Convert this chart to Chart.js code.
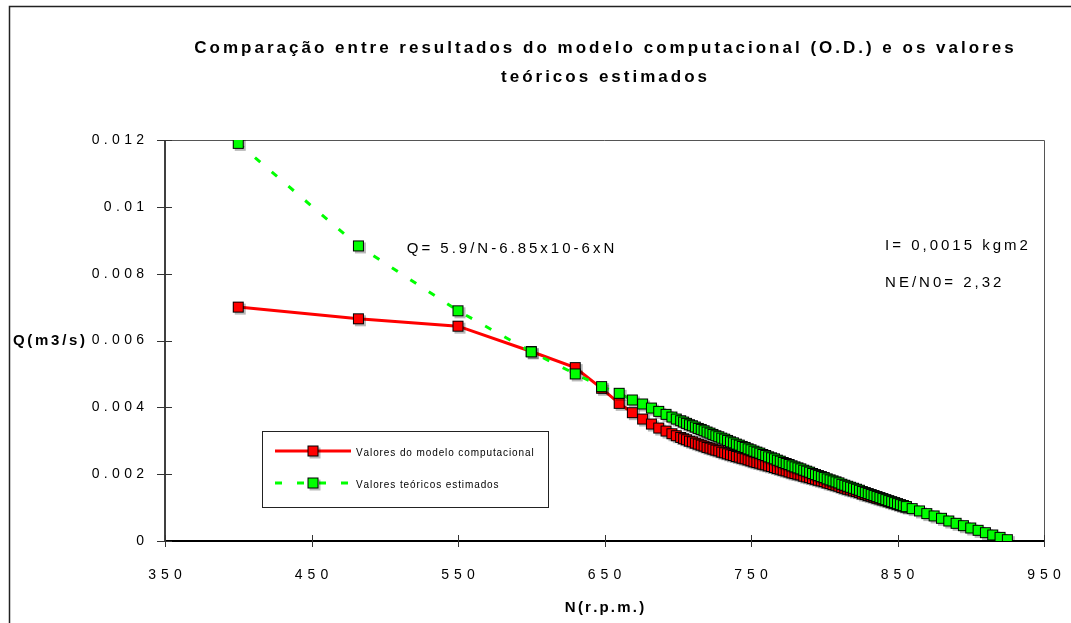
<!DOCTYPE html>
<html>
<head>
<meta charset="utf-8">
<script src="https://cdn.jsdelivr.net/npm/chart.js@4.4.1/dist/chart.umd.min.js"></script>
<style>
  html, body { margin: 0; padding: 0; background: #fff; }
  #wrap { width: 1071px; height: 623px; }
</style>
</head>
<body>
<div id="wrap"><canvas id="qChart" width="1071" height="623"></canvas></div>
<script>
// ── Data ──────────────────────────────────────────────────────────────────
const nModel = [400, 482, 550, 600, 630, 648, 660, 669, 676, 682, 687, 692, 696, 699,
  702, 704, 706, 708, 710, 712, 714, 716, 718, 720, 722, 724, 726, 728, 730, 732, 734, 736, 738, 740,
  742, 744, 746, 748, 750, 752, 754, 756, 758, 760, 762, 764, 766, 768, 770, 772, 774, 776, 778, 780,
  782, 784, 786, 788, 790, 792, 794, 796, 798, 800, 802, 804, 806, 808, 810, 812, 814, 816, 818, 820,
  822, 824, 826, 828, 830, 832, 834, 836, 838, 840, 842, 844, 846, 848, 850, 852, 854, 856];
const qModel = [0.00700, 0.00665, 0.00643, 0.00567, 0.00519, 0.00457, 0.00412, 0.00384, 0.00365,
  0.00350, 0.00338, 0.00329, 0.00321, 0.00315,
  0.00310, 0.00306, 0.00303, 0.00299, 0.00297, 0.00293, 0.00290, 0.00287, 0.00284, 0.00280,
  0.00278, 0.00275, 0.00272, 0.00270, 0.00266, 0.00264, 0.00261, 0.00258, 0.00256, 0.00253,
  0.00251, 0.00248, 0.00246, 0.00243, 0.00240, 0.00237, 0.00235, 0.00233, 0.00230, 0.00228,
  0.00225, 0.00223, 0.00220, 0.00217, 0.00215, 0.00212, 0.00210, 0.00207, 0.00204, 0.00202,
  0.00200, 0.00198, 0.00194, 0.00192, 0.00190, 0.00187, 0.00185, 0.00182, 0.00180, 0.00178,
  0.00174, 0.00172, 0.00169, 0.00167, 0.00164, 0.00160, 0.00158, 0.00155, 0.00153, 0.00150,
  0.00148, 0.00145, 0.00141, 0.00139, 0.00136, 0.00134, 0.00131, 0.00128, 0.00126, 0.00123,
  0.00121, 0.00118, 0.00115, 0.00113, 0.00110, 0.00107, 0.00105, 0.00102];

const nTheory = [400, 482, 550, 600, 630, 648, 660, 669, 676, 682, 687, 692, 696, 699,
  702, 704, 706, 708, 710, 712, 714, 716, 718, 720, 722, 724, 726, 728, 730, 732, 734, 736, 738, 740,
  742, 744, 746, 748, 750, 752, 754, 756, 758, 760, 762, 764, 766, 768, 770, 772, 774, 776, 778, 780,
  782, 784, 786, 788, 790, 792, 794, 796, 798, 800, 802, 804, 806, 808, 810, 812, 814, 816, 818, 820,
  822, 824, 826, 828, 830, 832, 834, 836, 838, 840, 842, 844, 846, 848, 850, 852, 854, 856,
  860, 865, 870, 875, 880, 885, 890, 895, 900, 905, 910, 915, 920, 925];
const qTheory = [0.01190, 0.00883, 0.00689, 0.00566, 0.00500, 0.00462, 0.00442, 0.00422, 0.00410,
  0.00398, 0.00388, 0.00379, 0.00371, 0.00365,
  0.00360, 0.00356, 0.00352, 0.00348, 0.00345, 0.00341, 0.00337, 0.00334, 0.00330, 0.00326,
  0.00323, 0.00319, 0.00315, 0.00312, 0.00308, 0.00305, 0.00301, 0.00297, 0.00294, 0.00290,
  0.00287, 0.00283, 0.00280, 0.00276, 0.00273, 0.00269, 0.00266, 0.00263, 0.00259, 0.00256,
  0.00252, 0.00249, 0.00246, 0.00242, 0.00239, 0.00235, 0.00232, 0.00229, 0.00225, 0.00222,
  0.00219, 0.00216, 0.00212, 0.00209, 0.00206, 0.00202, 0.00199, 0.00196, 0.00193, 0.00190,
  0.00186, 0.00183, 0.00180, 0.00177, 0.00174, 0.00170, 0.00167, 0.00164, 0.00161, 0.00158,
  0.00155, 0.00152, 0.00148, 0.00145, 0.00142, 0.00139, 0.00136, 0.00133, 0.00130, 0.00127,
  0.00124, 0.00121, 0.00118, 0.00115, 0.00112, 0.00109, 0.00106, 0.00103,
  0.00097, 0.00090, 0.00082, 0.00075, 0.00068, 0.00060, 0.00053, 0.00046, 0.00039, 0.00032,
  0.00025, 0.00018, 0.00011, 0.00004];

const xTicks = [350, 450, 550, 650, 750, 850, 950];
const xTickLabels = ['350', '450', '550', '650', '750', '850', '950'];
const yTicks = [0, 0.002, 0.004, 0.006, 0.008, 0.01, 0.012];
const yTickLabels = ['0', '0.002', '0.004', '0.006', '0.008', '0.01', '0.012'];

const seriesNames = ['Valores do modelo computacional', 'Valores teóricos estimados'];
const titleLines = ['Comparação entre resultados do modelo computacional (O.D.) e os valores', 'teóricos estimados'];
const xTitle = 'N(r.p.m.)';
const yTitle = 'Q(m3/s)';
const noteFormula = 'Q= 5.9/N-6.85x10-6xN';
const noteInertia = 'I= 0,0015 kgm2';
const noteRatio = 'NE/N0= 2,32';

const FONT = '"Liberation Sans", Arial, sans-serif';

// ── Helpers ───────────────────────────────────────────────────────────────
// canvas text with the wide letter spacing of the original export
function spacedText(ctx, str, x, y, gap, align) {
  const chars = [...str];
  const widths = chars.map(c => ctx.measureText(c).width);
  const total = widths.reduce((a, b) => a + b, 0) + gap * (chars.length - 1);
  let cx = align === 'center' ? x - total / 2 : align === 'right' ? x - total : x;
  ctx.textAlign = 'left';
  chars.forEach((c, i) => { ctx.fillText(c, cx, y); cx += widths[i] + gap; });
}

function toPoints(xs, ys) {
  return xs.map((x, i) => ({ x, y: ys[i] }));
}

// square marker with a soft grey drop shadow, like the spreadsheet export
function squareMarker(fill) {
  const c = document.createElement('canvas');
  c.width = 17; c.height = 17;
  const g = c.getContext('2d');
  g.fillStyle = 'rgba(0,0,0,0.28)';
  g.fillRect(5, 5, 11, 11);
  g.fillStyle = fill;
  g.fillRect(3, 3, 11, 11);
  g.strokeStyle = '#000';
  g.lineWidth = 1;
  g.strokeRect(3.5, 3.5, 10, 10);
  return c;
}

const redMarker = squareMarker('#ff0000');
const greenMarker = squareMarker('#00ff00');

// ── Frame, axes, texts, legend ────────────────────────────────────────────
const excelLook = {
  id: 'excelLook',
  beforeDraw(chart) {
    const { ctx, width, height } = chart;
    ctx.save();
    ctx.fillStyle = '#fff';
    ctx.fillRect(0, 0, width, height);
    // outer chart border (cut off at right / bottom)
    ctx.strokeStyle = '#222';
    ctx.lineWidth = 1.5;
    ctx.beginPath();
    ctx.moveTo(9.5, height); ctx.lineTo(9.5, 6.5); ctx.lineTo(width, 6.5);
    ctx.stroke();
    ctx.restore();
  },
  beforeDatasetsDraw(chart) {
    const { ctx, chartArea: a, scales: { x, y } } = chart;
    ctx.save();
    // plot frame
    ctx.strokeStyle = '#555';
    ctx.lineWidth = 1;
    ctx.beginPath();
    ctx.moveTo(a.left, a.top + 0.5); ctx.lineTo(a.right + 0.5, a.top + 0.5); ctx.lineTo(a.right + 0.5, a.bottom);
    ctx.stroke();
    // axes
    ctx.strokeStyle = '#000';
    ctx.lineWidth = 1.5;
    ctx.beginPath();
    ctx.moveTo(a.left, a.top); ctx.lineTo(a.left, a.bottom);
    ctx.stroke();
    ctx.lineWidth = 2;
    ctx.beginPath();
    ctx.moveTo(a.left, a.bottom); ctx.lineTo(a.right + 1, a.bottom);
    ctx.stroke();
    // crossing tick marks
    ctx.lineWidth = 1;
    ctx.strokeStyle = '#333';
    ctx.beginPath();
    xTicks.forEach(v => {
      const px = Math.round(x.getPixelForValue(v)) + 0.5;
      ctx.moveTo(px, a.bottom - 6); ctx.lineTo(px, a.bottom + 6);
    });
    yTicks.forEach(v => {
      const py = Math.round(y.getPixelForValue(v)) + 0.5;
      ctx.moveTo(a.left - 8, py); ctx.lineTo(a.left + 7, py);
    });
    ctx.stroke();

    // tick labels
    ctx.fillStyle = '#000';
    ctx.textBaseline = 'middle';
    ctx.font = '14px ' + FONT;
    xTicks.forEach((v, i) => spacedText(ctx, xTickLabels[i], x.getPixelForValue(v), a.bottom + 34, 5, 'center'));
    yTicks.forEach((v, i) => spacedText(ctx, yTickLabels[i], a.left - 21, y.getPixelForValue(v), 4.3, 'right'));

    // axis titles
    ctx.font = 'bold 15px ' + FONT;
    spacedText(ctx, yTitle, 13, y.getPixelForValue(0.006), 2.7, 'left');
    spacedText(ctx, xTitle, (a.left + a.right) / 2, 608, 2.2, 'center');

    // chart title
    ctx.font = 'bold 17px ' + FONT;
    spacedText(ctx, titleLines[0], 604, 48, 3.0, 'center');
    spacedText(ctx, titleLines[1], 604, 77, 3.0, 'center');

    // notes placed in data coordinates
    ctx.font = '15px ' + FONT;
    spacedText(ctx, noteFormula, x.getPixelForValue(515), y.getPixelForValue(0.00874), 3, 'left');
    spacedText(ctx, noteInertia, x.getPixelForValue(841.5), y.getPixelForValue(0.00883), 3, 'left');
    spacedText(ctx, noteRatio, x.getPixelForValue(841.5), y.getPixelForValue(0.00772), 3, 'left');
    ctx.restore();
  },
  afterDraw(chart) {
    const { ctx } = chart;
    const box = { left: 262, top: 431, right: 548, bottom: 507 };
    ctx.save();
    ctx.fillStyle = '#fff';
    ctx.fillRect(box.left, box.top, box.right - box.left, box.bottom - box.top);
    ctx.strokeStyle = '#222';
    ctx.lineWidth = 1;
    ctx.strokeRect(box.left + 0.5, box.top + 0.5, box.right - box.left, box.bottom - box.top);

    const rows = [451, 483];
    chart.data.datasets.forEach((ds, i) => {
      const yy = rows[i];
      ctx.strokeStyle = ds.borderColor;
      ctx.lineWidth = ds.borderWidth;
      ctx.setLineDash(ds.borderDash || []);
      ctx.beginPath();
      ctx.moveTo(275, yy); ctx.lineTo(351, yy);
      ctx.stroke();
      ctx.setLineDash([]);
      const m = ds.pointStyle;
      ctx.drawImage(m, 313 - m.width / 2, yy - m.height / 2);
      ctx.fillStyle = '#000';
      ctx.font = '10px ' + FONT;
      ctx.textBaseline = 'middle';
      spacedText(ctx, ds.label, 356, yy + 2, 0.9, 'left');
    });
    ctx.restore();
  }
};

// ── Chart ─────────────────────────────────────────────────────────────────
const qChart = new Chart(document.getElementById('qChart').getContext('2d'), {
  type: 'scatter',
  data: {
    datasets: [{
      label: seriesNames[0],
      data: toPoints(nModel, qModel),
      showLine: true,
      borderColor: '#ff0000',
      borderWidth: 3,
      pointStyle: redMarker,
      pointRadius: 7,
      order: 2
    }, {
      label: seriesNames[1],
      data: toPoints(nTheory, qTheory),
      showLine: true,
      borderColor: '#00ff00',
      borderWidth: 3,
      borderDash: [7, 15],
      pointStyle: greenMarker,
      pointRadius: 7,
      order: 1
    }]
  },
  options: {
    responsive: false,
    animation: false,
    events: [],
    layout: { padding: { top: 140, right: 27, left: 0, bottom: 0 } },
    plugins: {
      legend: { display: false },
      tooltip: { enabled: false },
      title: { display: false }
    },
    scales: {
      x: {
        type: 'linear', min: 350, max: 950,
        ticks: { display: false },
        grid: { display: false },
        border: { display: false },
        afterBuildTicks: s => { s.ticks = xTicks.map(v => ({ value: v })); },
        afterFit: s => { s.height = 82; }
      },
      y: {
        type: 'linear', min: 0, max: 0.012,
        ticks: { display: false },
        grid: { display: false },
        border: { display: false },
        afterBuildTicks: s => { s.ticks = yTicks.map(v => ({ value: v })); },
        afterFit: s => { s.width = 165; }
      }
    }
  },
  plugins: [excelLook]
});
</script>
</body>
</html>
